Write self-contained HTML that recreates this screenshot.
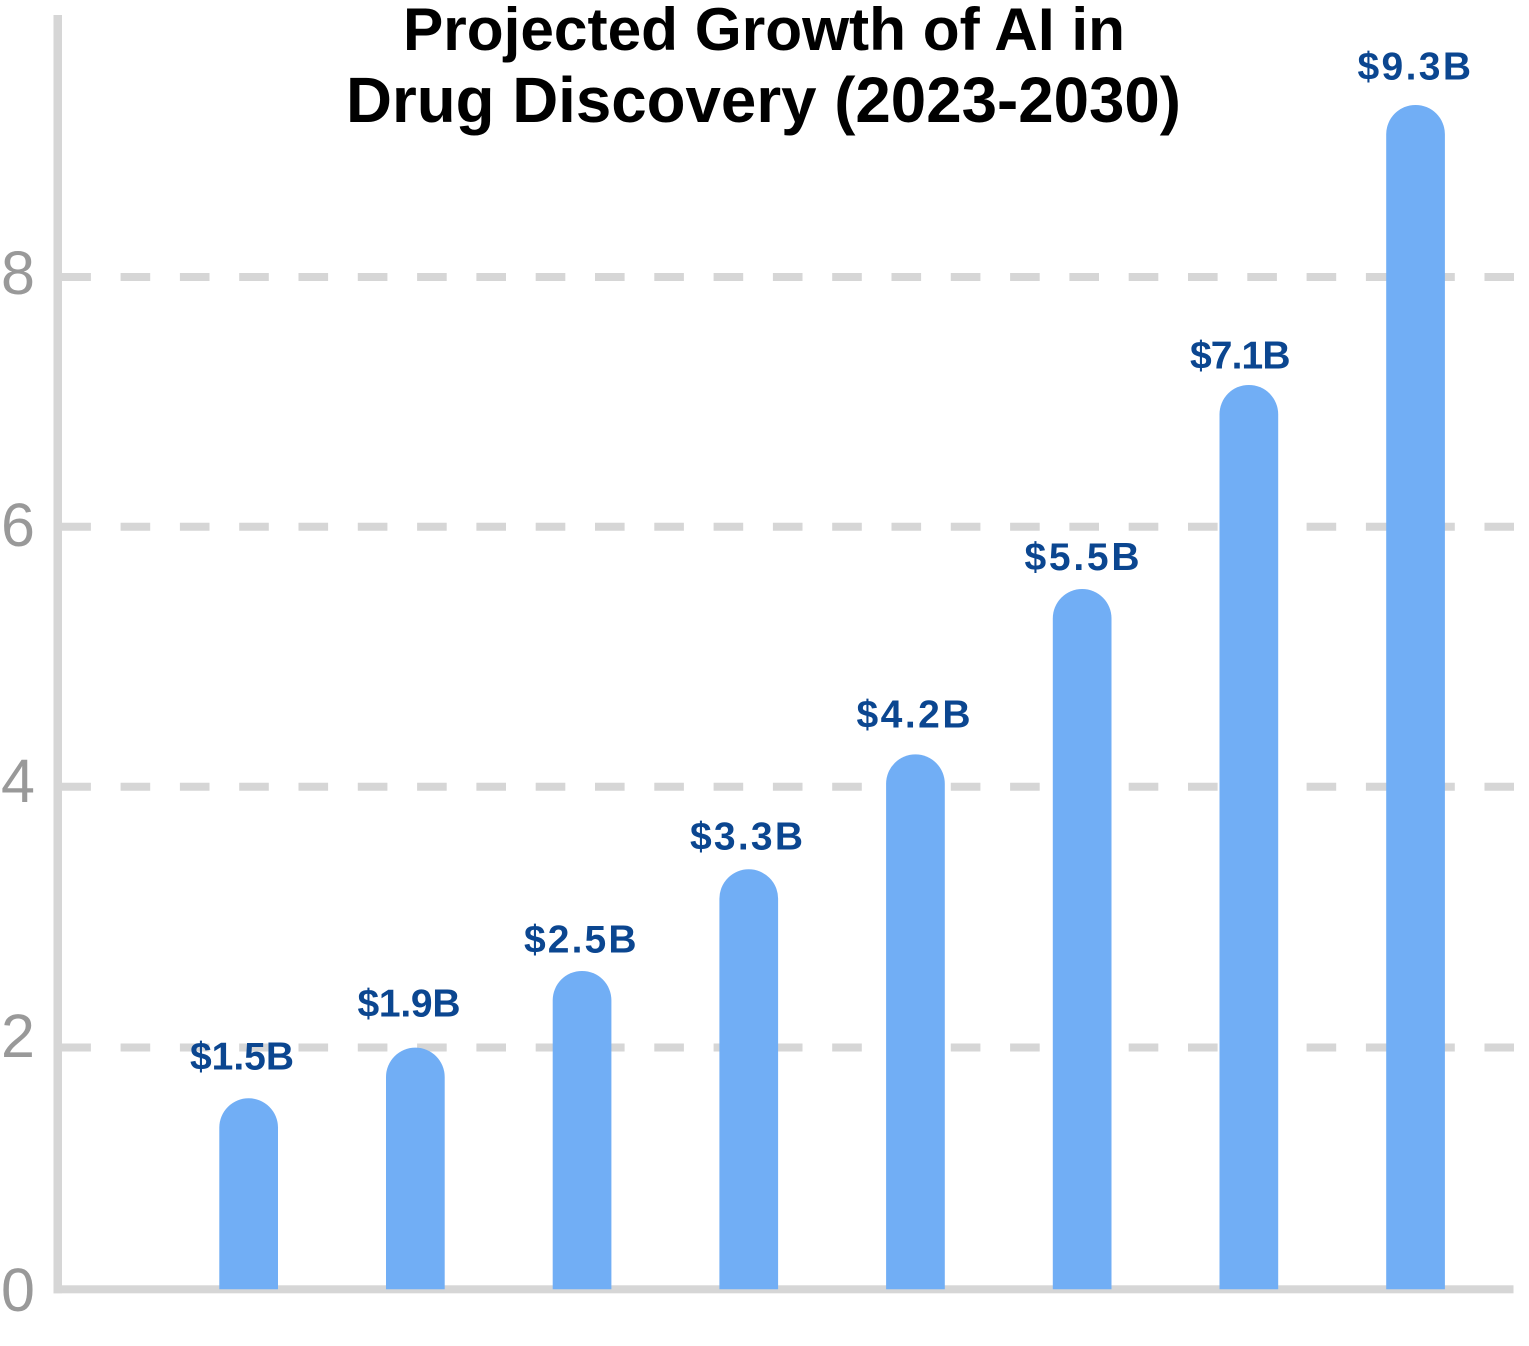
<!DOCTYPE html>
<html>
<head>
<meta charset="utf-8">
<style>
  html, body { margin: 0; padding: 0; background: #ffffff; }
  svg { display: block; }
</style>
</head>
<body>
<svg width="1529" height="1346" viewBox="0 0 1529 1346" xmlns="http://www.w3.org/2000/svg">
  <rect x="0" y="0" width="1529" height="1346" fill="#ffffff"/>

  <!-- gridlines -->
  <g stroke="#d6d6d6" stroke-width="8" stroke-dasharray="29.6 29.7" fill="none">
    <line x1="61.3" y1="277" x2="1514" y2="277"/>
    <line x1="61.3" y1="526.7" x2="1514" y2="526.7"/>
    <line x1="61.3" y1="786.7" x2="1514" y2="786.7"/>
    <line x1="61.3" y1="1047.5" x2="1514" y2="1047.5"/>
  </g>

  <!-- axes -->
  <rect x="53.5" y="15" width="8.5" height="1278.3" fill="#d6d6d6"/>
  <rect x="53.5" y="1285.3" width="1460" height="8" fill="#d6d6d6"/>

  <!-- y tick labels -->
  <g font-family="'Liberation Sans', Arial, sans-serif" font-size="61" fill="#999999">
    <text x="1" y="294">8</text>
    <text x="1" y="546">6</text>
    <text x="1" y="802">4</text>
    <text x="1" y="1057">2</text>
    <text x="1" y="1311">0</text>
  </g>

  <!-- bars -->
  <g fill="#71aef5">
    <path d="M219.3 1289.3 V1127.6 A29.35 29.35 0 0 1 278 1127.6 V1289.3 Z"/>
    <path d="M386 1289.3 V1077 A29.35 29.35 0 0 1 444.7 1077 V1289.3 Z"/>
    <path d="M552.7 1289.3 V1000.3 A29.35 29.35 0 0 1 611.4 1000.3 V1289.3 Z"/>
    <path d="M719.4 1289.3 V898.6 A29.35 29.35 0 0 1 778.1 898.6 V1289.3 Z"/>
    <path d="M886.1 1289.3 V783.7 A29.35 29.35 0 0 1 944.8 783.7 V1289.3 Z"/>
    <path d="M1052.8 1289.3 V618.4 A29.35 29.35 0 0 1 1111.5 618.4 V1289.3 Z"/>
    <path d="M1219.5 1289.3 V414.3 A29.35 29.35 0 0 1 1278.2 414.3 V1289.3 Z"/>
    <path d="M1386.2 1289.3 V134.3 A29.35 29.35 0 0 1 1444.9 134.3 V1289.3 Z"/>
  </g>

  <!-- value labels -->
  <g font-family="'Liberation Sans', Arial, sans-serif" font-size="39" font-weight="bold" fill="#0b4690">
    <text x="190" y="1069.3" textLength="104" lengthAdjust="spacing">$1.5B</text>
    <text x="357.5" y="1016.7" textLength="103" lengthAdjust="spacing">$1.9B</text>
    <text x="524" y="952.3" textLength="112.5" lengthAdjust="spacing">$2.5B</text>
    <text x="690" y="849.3" textLength="113" lengthAdjust="spacing">$3.3B</text>
    <text x="856.5" y="727.7" textLength="114" lengthAdjust="spacing">$4.2B</text>
    <text x="1024.5" y="570" textLength="115" lengthAdjust="spacing">$5.5B</text>
    <text x="1190" y="368.3" textLength="100.5" lengthAdjust="spacing">$7.1B</text>
    <text x="1357.5" y="79.3" textLength="113.5" lengthAdjust="spacing">$9.3B</text>
  </g>

  <!-- title -->
  <g font-family="'Liberation Sans', Arial, sans-serif" font-weight="bold" fill="#000000">
    <text x="403" y="50" font-size="60" textLength="722" lengthAdjust="spacingAndGlyphs">Projected Growth of AI in</text>
    <text x="346" y="122" font-size="64" textLength="835" lengthAdjust="spacingAndGlyphs">Drug Discovery (2023-2030)</text>
  </g>
</svg>
</body>
</html>
